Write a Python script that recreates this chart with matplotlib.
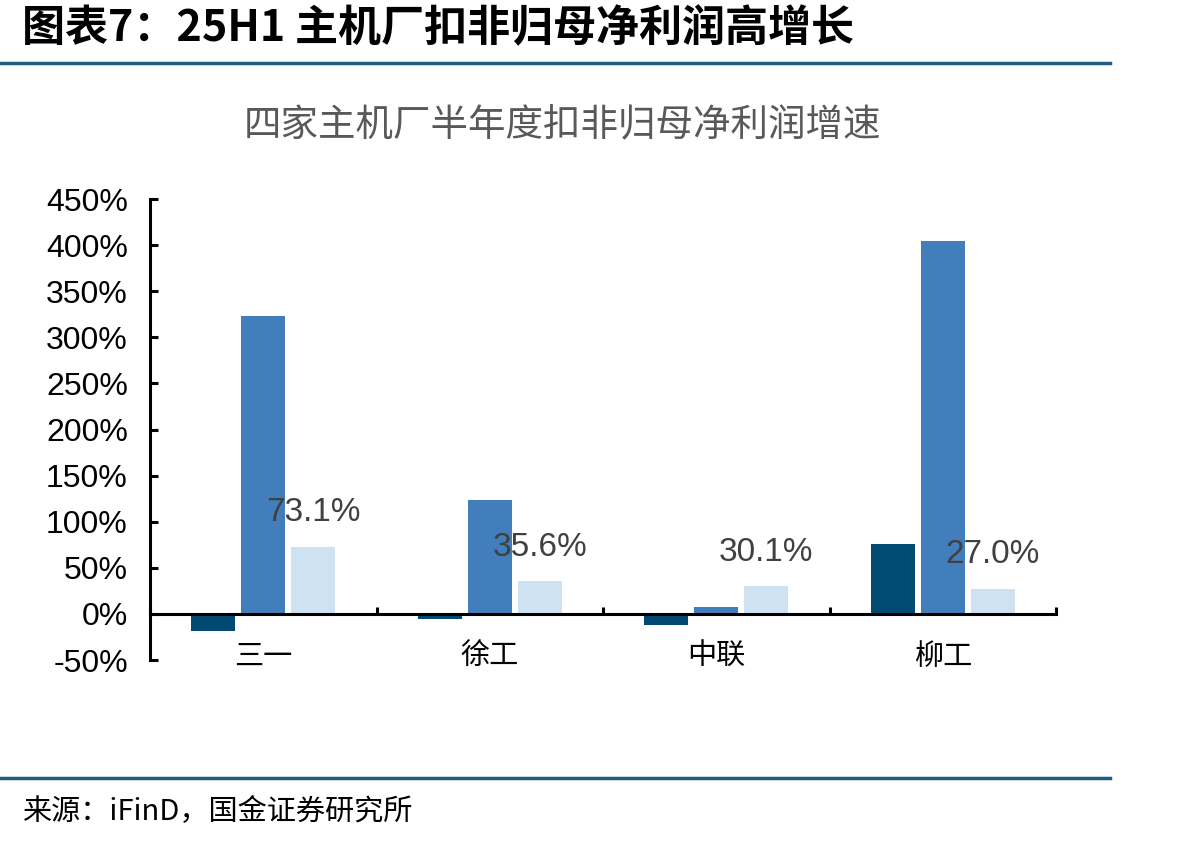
import matplotlib
matplotlib.use('Agg')
import matplotlib.pyplot as plt
import numpy as np
from matplotlib.ticker import FuncFormatter

plt.rcParams['font.family'] = ['Liberation Sans', 'Noto Sans CJK SC', 'DejaVu Sans']

# ── data ──────────────────────────────────────────────
companies = ['三一', '徐工', '中联', '柳工']
series_dark = [-19.0, -5.0, -11.5, 76.0]
series_mid = [323.0, 124.0, 8.0, 404.0]
series_light = [73.1, 35.6, 30.1, 27.0]
light_labels = ['73.1%', '35.6%', '30.1%', '27.0%']
yticks = [-50, 0, 50, 100, 150, 200, 250, 300, 350, 400, 450]

C_DARK = '#004A73'
C_MID = '#417EBB'
C_LIGHT = '#CFE2F2'
C_RULE = '#1F5C84'
CJK = ['Noto Sans CJK SC', 'DejaVu Sans']

fig = plt.figure(figsize=(11.98, 8.44), dpi=100)
ax = fig.add_axes([0.1252, 0.218, 0.7563, 0.5462])

x = np.arange(len(companies))
w = 0.195
off = 0.221
ax.bar(x - off, series_dark, w, color=C_DARK, zorder=2)
ax.bar(x, series_mid, w, color=C_MID, zorder=2)
ax.bar(x + off, series_light, w, color=C_LIGHT, zorder=2)

for xi, v, lab in zip(x + off, series_light, light_labels):
    ax.annotate(lab, (xi, v), xytext=(0, 24.5), textcoords='offset points',
                ha='center', va='center', fontsize=24, color='#404040',
                family='Liberation Sans', zorder=3)

ax.set_xlim(-0.5, len(companies) - 0.5)
ax.set_ylim(-50, 450)
ax.set_yticks(yticks)
ax.yaxis.set_major_formatter(FuncFormatter(lambda v, p: f'{v:.0f}%'))
ax.tick_params(axis='y', direction='in', length=6, width=2.2, labelsize=23, pad=16)

# x axis sits on zero; boundary ticks point up, labels on minor ticks
ax.spines['bottom'].set_position(('data', 0))
ax.spines['top'].set_visible(False)
ax.spines['right'].set_visible(False)
for s in ('left', 'bottom'):
    ax.spines[s].set_linewidth(2.2)
ax.set_xticks(np.arange(-0.5, len(companies), 1.0))
ax.set_xticklabels([])
ax.tick_params(axis='x', which='major', direction='in', length=5, width=2.2)
ax.set_xticks(x, minor=True)
ax.set_xticklabels(companies, minor=True, family=CJK, fontsize=21)
ax.tick_params(axis='x', which='minor', length=0, pad=20)

# ── header / footer ───────────────────────────────────
fig.text(22 / 1198, 1 - 28 / 844, '图表7：25H1 主机厂扣非归母净利润高增长',
         family=CJK, fontsize=31, fontweight='bold', fontstyle='italic',
         ha='left', va='center', color='black')
fig.add_artist(plt.Line2D([0, 1110 / 1198], [1 - 63 / 844] * 2, color=C_RULE, lw=2.5))
fig.text(562 / 1198, 1 - 125 / 844, '四家主机厂半年度扣非归母净利润增速',
         family=CJK, fontsize=27, ha='center', va='center', color='#595959')
fig.add_artist(plt.Line2D([0, 1110 / 1198], [1 - 778 / 844] * 2, color=C_RULE, lw=2.5))
fig.text(22 / 1198, 1 - 812 / 844, '来源：iFinD，国金证券研究所',
         family=CJK, fontsize=21, ha='left', va='center', color='black')

fig.savefig('out.png', dpi=100)
